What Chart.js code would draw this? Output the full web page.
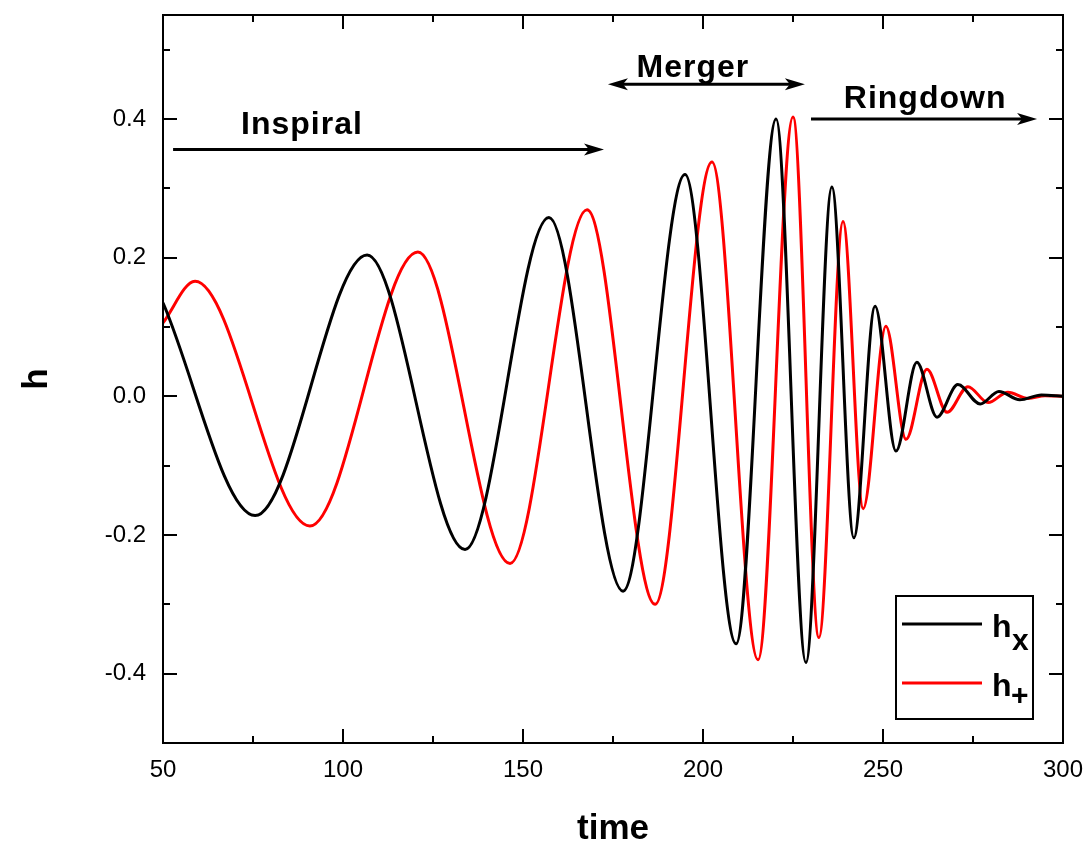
<!DOCTYPE html>
<html>
<head>
<meta charset="utf-8">
<script src="https://cdn.jsdelivr.net/npm/chart.js@4/dist/chart.umd.min.js"></script>
<style>
  body { margin: 0; background: #fff; }
</style>
</head>
<body>
<canvas id="myChart" width="1085" height="850"></canvas>
<script>
// h_x (black) : start value and the peaks / troughs
var tCross = [50, 75.6, 106.7, 133.9, 157.2, 177.8, 195, 209.2, 220.3, 228.6, 235.8, 241.9, 247.8, 253.6, 259.4, 265, 270.8, 277, 282.2, 288, 294, 300];
var hCross = [0.135, -0.172, 0.204, -0.221, 0.258, -0.281, 0.320, -0.357, 0.400, -0.384, 0.302, -0.204, 0.130, -0.079, 0.049, -0.030, 0.017, -0.011, 0.007, -0.005, 0.002, 0];

// h_+ (red)
var tPlus = [50, 58.9, 90.8, 120.8, 146.4, 167.8, 186.7, 202.5, 215.3, 225, 232.2, 238.9, 244.5, 250.8, 256.4, 262.2, 267.8, 273.6, 279.2, 284.7, 290.3, 295, 300];
var hPlus = [0.106, 0.166, -0.187, 0.208, -0.241, 0.269, -0.300, 0.338, -0.380, 0.403, -0.348, 0.252, -0.162, 0.101, -0.062, 0.039, -0.023, 0.014, -0.009, 0.006, -0.003, 0.001, 0];

var xTicks = [50, 100, 150, 200, 250, 300];
var xMinor = [75, 125, 175, 225, 275];
var yTicks = [-0.4, -0.2, 0.0, 0.2, 0.4];
var yMinor = [-0.3, -0.1, 0.1, 0.3, 0.5];

function pts(t, h) {
  return t.map(function(v, i) { return {x: v, y: h[i]}; });
}

var FONT = '"Liberation Sans", Arial, sans-serif';

function arrowHead(c, x, y, dir) {
  c.beginPath();
  c.moveTo(x, y);
  c.lineTo(x - dir * 20, y - 6);
  c.lineTo(x - dir * 15, y);
  c.lineTo(x - dir * 20, y + 6);
  c.closePath();
  c.fill();
}

function arrow(c, x1, x2, y, both) {
  c.beginPath();
  c.moveTo(both ? x1 + 14 : x1, y);
  c.lineTo(x2 - 14, y);
  c.stroke();
  arrowHead(c, x2, y, 1);
  if (both) arrowHead(c, x1, y, -1);
}

var decorations = {
  id: 'decorations',
  afterDatasetsDraw: function(chart) {
    var c = chart.ctx, a = chart.chartArea;
    var xs = chart.scales.x, ys = chart.scales.y;
    c.save();
    c.strokeStyle = '#000';
    c.fillStyle = '#000';
    c.lineWidth = 2;
    // frame + inward ticks on all four sides
    c.strokeRect(a.left, a.top, a.right - a.left, a.bottom - a.top);
    c.beginPath();
    function xt(list, len) {
      list.forEach(function(v) {
        var p = Math.round(xs.getPixelForValue(v));
        c.moveTo(p, a.bottom); c.lineTo(p, a.bottom - len);
        c.moveTo(p, a.top); c.lineTo(p, a.top + len);
      });
    }
    function yt(list, len) {
      list.forEach(function(v) {
        var p = Math.round(ys.getPixelForValue(v));
        c.moveTo(a.left, p); c.lineTo(a.left + len, p);
        c.moveTo(a.right, p); c.lineTo(a.right - len, p);
      });
    }
    xt(xTicks, 14); xt(xMinor, 7);
    yt(yTicks, 14); yt(yMinor, 7);
    c.stroke();

    // phase arrows
    c.lineWidth = 3;
    arrow(c, xs.getPixelForValue(52.8), xs.getPixelForValue(172.5), ys.getPixelForValue(0.356), false);
    arrow(c, xs.getPixelForValue(173.6), xs.getPixelForValue(228.3), ys.getPixelForValue(0.450), true);
    arrow(c, xs.getPixelForValue(230), xs.getPixelForValue(292.8), ys.getPixelForValue(0.400), false);

    c.font = 'bold 32px ' + FONT;
    c.textAlign = 'center';
    c.textBaseline = 'alphabetic';
    c.letterSpacing = '1px';
    c.fillText('Inspiral', xs.getPixelForValue(88.6), ys.getPixelForValue(0.378));
    c.fillText('Merger', xs.getPixelForValue(197.2), ys.getPixelForValue(0.460));
    c.fillText('Ringdown', xs.getPixelForValue(261.7), ys.getPixelForValue(0.416));
    c.letterSpacing = '0px';

    // legend box
    var bx = a.right - 167, by = a.bottom - 147, bw = 137, bh = 123;
    c.fillStyle = '#fff';
    c.fillRect(bx, by, bw, bh);
    c.lineWidth = 2;
    c.strokeStyle = '#000';
    c.strokeRect(bx, by, bw, bh);
    var sets = chart.data.datasets;
    var rows = [by + 28, by + 87];
    c.lineWidth = 3;
    sets.forEach(function(ds, i) {
      c.strokeStyle = ds.borderColor;
      c.beginPath();
      c.moveTo(bx + 6, rows[i]); c.lineTo(bx + 86, rows[i]);
      c.stroke();
    });
    c.fillStyle = '#000';
    c.textAlign = 'left';
    c.font = 'bold 32px ' + FONT;
    c.fillText('h', bx + 96, rows[0] + 13);
    c.fillText('h', bx + 96, rows[1] + 13);
    c.font = 'bold 30px ' + FONT;
    c.fillText('x', bx + 116, rows[0] + 26);
    c.fillText('+', bx + 115, rows[1] + 22);
    c.restore();
  }
};

var ctx = document.getElementById('myChart').getContext('2d');

var myChart = new Chart(ctx, {
  type: 'line',
  data: {
    datasets: [
      {
        label: 'hx',
        data: pts(tCross, hCross),
        borderColor: '#000000',
        borderWidth: 3,
        pointRadius: 0,
        fill: false,
        cubicInterpolationMode: 'monotone'
      },
      {
        label: 'h+',
        data: pts(tPlus, hPlus),
        borderColor: '#ff0000',
        borderWidth: 3,
        pointRadius: 0,
        fill: false,
        cubicInterpolationMode: 'monotone'
      }
    ]
  },
  options: {
    responsive: false,
    animation: false,
    layout: { padding: { left: 0, right: 22, top: 15, bottom: 0 } },
    plugins: {
      legend: { display: false },
      tooltip: { enabled: false }
    },
    scales: {
      x: {
        type: 'linear',
        min: 50,
        max: 300,
        afterBuildTicks: function(s) { s.ticks = xTicks.map(function(v) { return {value: v}; }); },
        afterFit: function(s) { s.height = 107; s.paddingLeft = 0; s.paddingRight = 0; },
        grid: { display: false, drawTicks: false },
        border: { display: false },
        ticks: {
          padding: 13,
          maxRotation: 0,
          color: '#000',
          font: { family: FONT, size: 24 },
          callback: function(v) { return String(v); }
        },
        title: {
          display: true,
          text: 'time',
          color: '#000',
          padding: { top: 0, bottom: 0 },
          font: { family: FONT, size: 35, weight: 'bold' }
        }
      },
      y: {
        min: -0.5,
        max: 0.55,
        afterBuildTicks: function(s) { s.ticks = yTicks.map(function(v) { return {value: v}; }); },
        afterFit: function(s) { s.width = 163; s.paddingTop = 0; s.paddingBottom = 0; },
        grid: { display: false, drawTicks: false },
        border: { display: false },
        ticks: {
          padding: 17,
          color: '#000',
          font: { family: FONT, size: 24 },
          callback: function(v) { return v.toFixed(1); }
        },
        title: {
          display: true,
          text: 'h',
          color: '#000',
          padding: { top: 16, bottom: 0 },
          font: { family: FONT, size: 35, weight: 'bold' }
        }
      }
    }
  },
  plugins: [decorations]
});
</script>
</body>
</html>
